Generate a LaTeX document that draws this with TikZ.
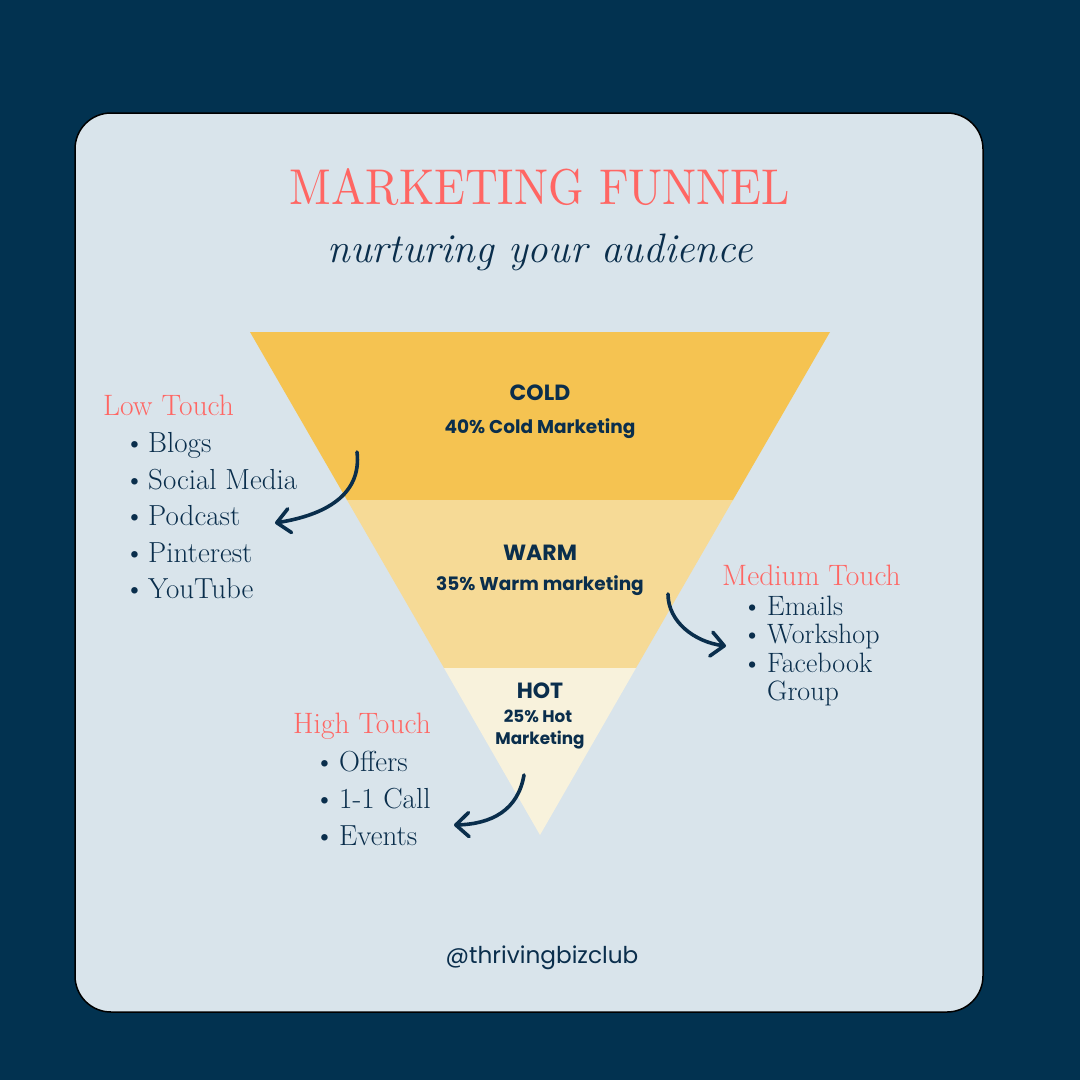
\documentclass[tikz,border=0pt]{standalone}
\usepackage{fontspec}
\usepackage{graphicx}
\newfontfamily\pop{Poppins}
\usetikzlibrary{arrows.meta}
\definecolor{navy}{HTML}{023250}
\definecolor{card}{HTML}{D9E4EB}
\definecolor{cold}{HTML}{F5C351}
\definecolor{warm}{HTML}{F6DA96}
\definecolor{hot}{HTML}{F8F2DC}
\definecolor{coral}{HTML}{FF6663}
\definecolor{ink}{HTML}{0A2E4C}
\tikzset{
  head/.style={text=coral, anchor=base west, inner sep=0pt, font=\fontsize{29.5}{31}\selectfont},
  item/.style={text=ink, anchor=base west, inner sep=0pt, font=\fontsize{29}{31}\selectfont},
  mitem/.style={text=ink, anchor=base west, inner sep=0pt, font=\fontsize{28}{30}\selectfont},
  band/.style={text=ink, anchor=base, inner sep=0pt, font=\pop\bfseries\fontsize{22}{24}\selectfont},
  pct/.style={text=ink, anchor=base, inner sep=0pt, font=\pop\bfseries\fontsize{18.5}{20}\selectfont},
  curl/.style={draw=ink, line width=3.6pt, line cap=round, -{Straight Barb[length=13pt,width=24pt,line width=3.6pt,round]}},
}
\newcommand{\bul}[2][24pt]{\makebox[#1][l]{\textbullet}#2}
\begin{document}
\begin{tikzpicture}[x=1pt,y=-1pt]
\fill[navy] (0,0) rectangle (1080,1080);
\useasboundingbox (0,0) rectangle (1080,1080);
\draw[fill=card, draw=black, line width=1.5pt, rounded corners=36pt] (75,113) rectangle (983,1012);
% funnel
\fill[cold] (250,332) -- (830,332) -- (733,500) -- (347,500) -- cycle;
\fill[warm] (347,500) -- (733,500) -- (636,668) -- (444,668) -- cycle;
\fill[hot] (444,668) -- (636,668) -- (540,835) -- cycle;
% title
\node[text=coral, anchor=base, inner sep=0pt] (title) at (540,204) {\resizebox{500pt}{36pt}{MARKETING FUNNEL}};
\node[text=ink, anchor=base, inner sep=0pt] (sub) at (540,262) {\resizebox{425pt}{!}{\fontsize{40}{44}\selectfont\itshape nurturing your audience}};
% band labels
\node[band] (cold) at (540,400) {COLD};
\node[pct] (coldp) at (540,433) {40\% Cold Marketing};
\node[band] (warm) at (540,560) {WARM};
\node[pct] (warmp) at (540,590) {35\% Warm marketing};
\node[band] (hot) at (540,698) {HOT};
\node[pct, font=\pop\bfseries\fontsize{16.8}{18}\selectfont] (hotp1) at (538,722) {25\% Hot};
\node[pct, font=\pop\bfseries\fontsize{16.8}{18}\selectfont] (hotp2) at (540,744) {Marketing};
% low touch
\node[head] (low) at (103,415) {Low Touch};
\node[item] (l1) at (124,452) {\bul{Blogs}};
\node[item] (l2) at (124,489) {\bul{Social Media}};
\node[item] (l3) at (124,525) {\bul{Podcast}};
\node[item] (l4) at (124,562) {\bul{Pinterest}};
\node[item] (l5) at (124,598) {\bul{YouTube}};
% medium touch
\node[head] (med) at (722,585) {Medium Touch};
\node[mitem] (m1) at (742,615) {\bul[25pt]{Emails}};
\node[mitem] (m2) at (742,643) {\bul[25pt]{Workshop}};
\node[mitem] (m3) at (742,672) {\bul[25pt]{Facebook}};
\node[mitem] (m4) at (767,700) {Group};
% high touch
\node[head] (high) at (293,733) {High Touch};
\node[item] (h1) at (314,771) {\bul[25pt]{Offers}};
\node[item] (h2) at (314,808) {\bul[25pt]{1-1 Call}};
\node[item] (h3) at (314,845) {\bul[25pt]{Events}};
% arrows
\coordinate (a1s) at (357,452); \coordinate (a1e) at (275,523);
\coordinate (a2s) at (668,594); \coordinate (a2e) at (726,646);
\coordinate (a3s) at (524,775); \coordinate (a3e) at (454,825);
\draw[curl] (a1s) .. controls (362,495) and (325,515) .. (a1e);
\draw[curl] (a2s) .. controls (668,622) and (695,642) .. (a2e);
\draw[curl] (a3s) .. controls (518,810) and (492,824) .. (a3e);
% handle
\node[text=ink, anchor=base, inner sep=0pt, font=\pop\fontsize{23.2}{25}\selectfont] (handle) at (542,963) {@thrivingbizclub};
\end{tikzpicture}
\end{document}
